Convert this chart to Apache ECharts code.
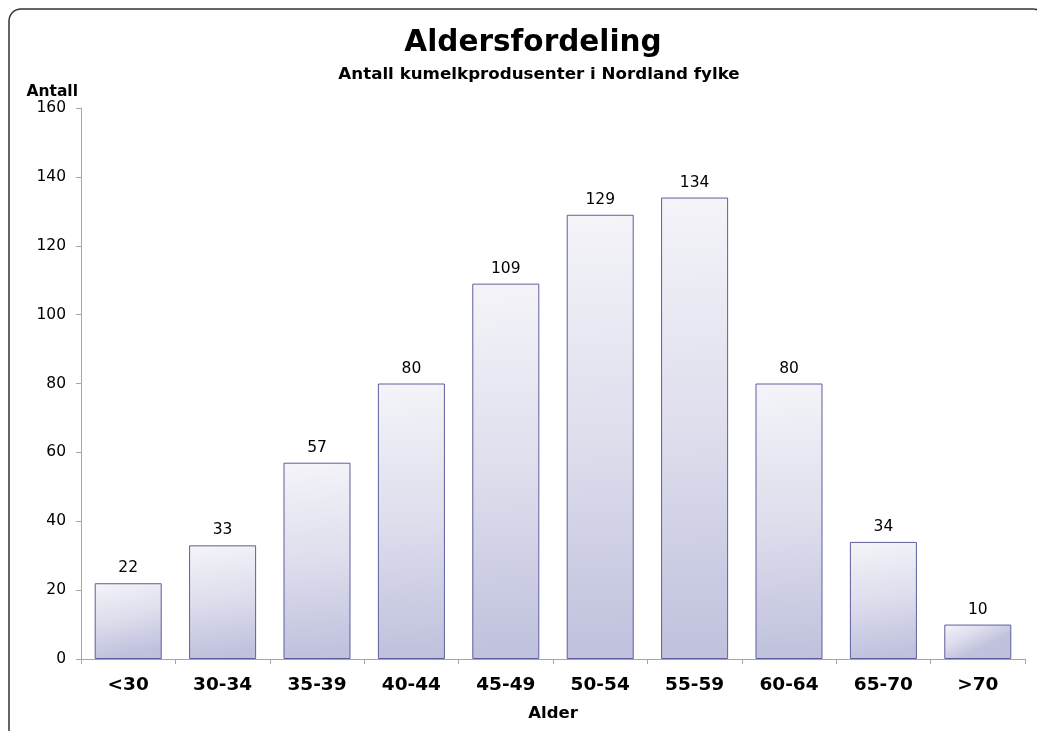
<!DOCTYPE html>
<html>
<head>
<meta charset="utf-8">
<script src="https://cdn.jsdelivr.net/npm/echarts@6/dist/echarts.min.js"></script>
<style>
  html, body { margin: 0; padding: 0; background: #fff; }
  #chart { width: 1037px; height: 731px; }
</style>
</head>
<body>
<div id="chart"></div>
<script>
// aldersgrupper og antall produsenter
const categories = ["<30", "30-34", "35-39", "40-44", "45-49", "50-54", "55-59", "60-64", "65-70", ">70"];
const antall = [22, 33, 57, 80, 109, 129, 134, 80, 34, 10];
const yTicks = [0, 20, 40, 60, 80, 100, 120, 140, 160];

const chart = echarts.init(document.getElementById("chart"));

chart.setOption({
  animation: false,
  textStyle: { fontFamily: "DejaVu Sans" },
  title: [
    {
      text: "Aldersfordeling",
      left: 528,
      top: 23,
      textAlign: "center",
      textStyle: { fontFamily: "DejaVu Sans", fontWeight: "bold", fontSize: 29.5, color: "#000" }
    },
    {
      text: "Antall kumelkprodusenter i Nordland fylke",
      left: 534,
      top: 61,
      textAlign: "center",
      textStyle: { fontFamily: "DejaVu Sans", fontWeight: "bold", fontSize: 16.7, color: "#000" }
    }
  ],
  graphic: [
    {
      type: "rect",
      shape: { x: 9, y: 9, width: 1036, height: 740, r: 12 },
      style: { fill: "none", stroke: "#333", lineWidth: 1.5 },
      silent: true
    }
  ],
  grid: { left: 81, right: 12, top: 108, bottom: 72 },
  xAxis: {
    type: "category",
    data: categories,
    name: "Alder",
    nameLocation: "middle",
    nameGap: 46,
    nameTextStyle: { fontWeight: "bold", fontSize: 16.5, color: "#000" },
    axisLine: { lineStyle: { color: "#a6a6a6" } },
    axisTick: { show: true, length: 5, lineStyle: { color: "#a6a6a6" } },
    axisLabel: { fontWeight: "bold", fontSize: 18.5, color: "#000", margin: 17 }
  },
  yAxis: {
    type: "value",
    min: yTicks[0],
    max: yTicks[yTicks.length - 1],
    interval: 20,
    name: "Antall",
    nameLocation: "end",
    nameGap: 5,
    nameTextStyle: { fontWeight: "bold", fontSize: 15.5, color: "#000", align: "right", padding: [0, 3, 0, 0] },
    axisLine: { show: true, lineStyle: { color: "#a6a6a6" } },
    axisTick: { show: true, length: 5, lineStyle: { color: "#a6a6a6" } },
    splitLine: { show: false },
    axisLabel: { fontSize: 15.5, color: "#000", margin: 15 }
  },
  series: [
    {
      type: "bar",
      data: antall,
      barCategoryGap: "29%",
      itemStyle: {
        color: {
          type: "linear",
          x: 0, y: 0, x2: 0.25, y2: 1,
          colorStops: [
            { offset: 0, color: "#f4f4f9" },
            { offset: 0.5, color: "#dedeed" },
            { offset: 1, color: "#bfc1dd" }
          ]
        },
        borderColor: "#5e5e9e",
        borderWidth: 1
      },
      label: {
        show: true,
        position: "top",
        distance: 7,
        fontSize: 15.5,
        color: "#000"
      }
    }
  ]
});
</script>
</body>
</html>
